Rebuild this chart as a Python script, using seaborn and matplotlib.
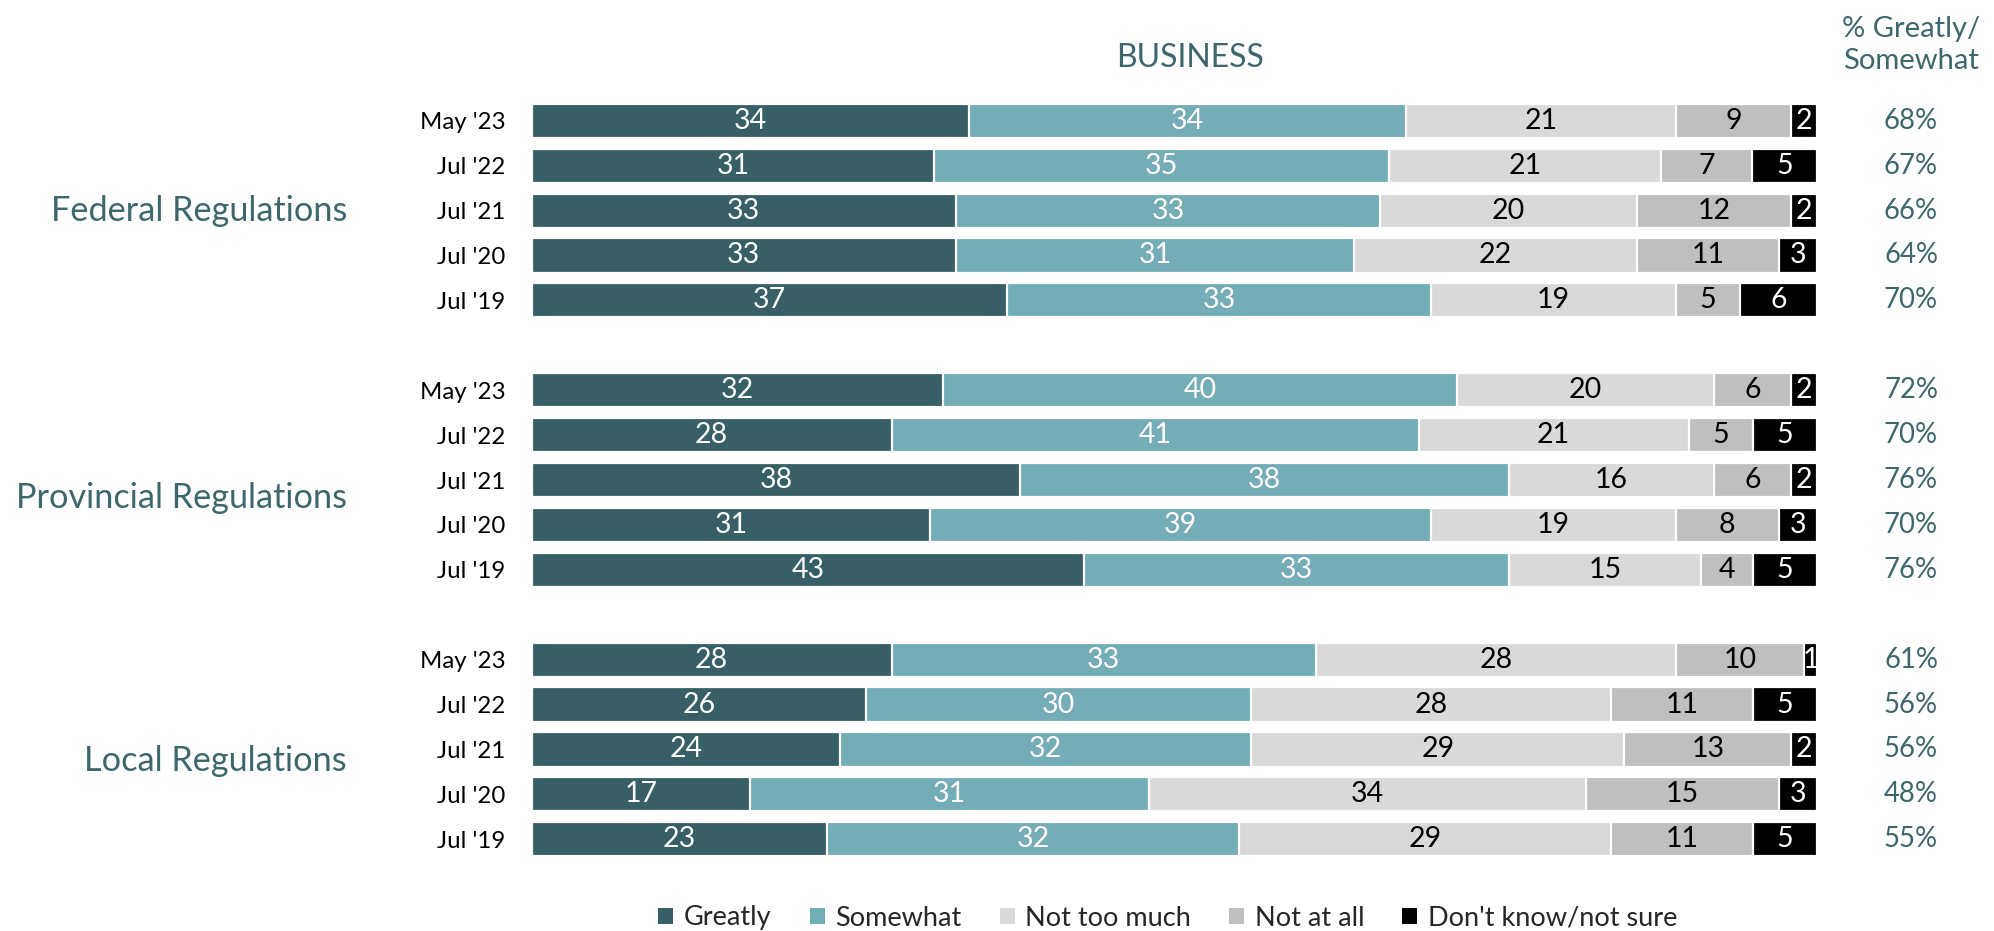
import numpy as np
import pandas as pd
import matplotlib
matplotlib.use("Agg")
import matplotlib.pyplot as plt
import matplotlib.transforms as mtrans
from matplotlib.patches import Patch
import seaborn as sns

# ---------------- data ----------------
groups = ["Federal Regulations", "Provincial Regulations", "Local Regulations"]
waves = ["May '23", "Jul '22", "Jul '21", "Jul '20", "Jul '19"]
series = ["Greatly", "Somewhat", "Not too much", "Not at all", "Don't know/not sure"]

greatly      = [34, 31, 33, 33, 37,   32, 28, 38, 31, 43,   28, 26, 24, 17, 23]
somewhat     = [34, 35, 33, 31, 33,   40, 41, 38, 39, 33,   33, 30, 32, 31, 32]
not_too_much = [21, 21, 20, 22, 19,   20, 21, 16, 19, 15,   28, 28, 29, 34, 29]
not_at_all   = [9, 7, 12, 11, 5,      6, 5, 6, 8, 4,        10, 11, 13, 15, 11]
dont_know    = [2, 5, 2, 3, 6,        2, 5, 2, 3, 5,        1, 5, 2, 3, 5]
pct_greatly_somewhat = ["68%", "67%", "66%", "64%", "70%",
                        "72%", "70%", "76%", "70%", "76%",
                        "61%", "56%", "56%", "48%", "55%"]

colors = ["#375F65", "#73ADB5", "#D9D9D9", "#BFBFBF", "#000000"]
text_colors = ["white", "white", "black", "black", "white"]
teal = "#3E676C"

# ---------------- build table ----------------
vals = np.array([greatly, somewhat, not_too_much, not_at_all, dont_know], dtype=float)
norm = vals / vals.sum(axis=0) * 100.0
cum = np.cumsum(norm, axis=0)

positions = []
for gi in range(len(groups)):
    for wi in range(len(waves)):
        positions.append(gi * (len(waves) + 1) + wi)
positions = np.array(positions, dtype=float)

df = pd.DataFrame({"pos": positions})
for k, s in enumerate(series):
    df[s] = norm[k]
    df["cum_" + s] = cum[k]

# ---------------- figure ----------------
sns.set_theme(style="white")
plt.rcParams["font.family"] = ["Lato", "DejaVu Sans"]

fig = plt.figure(figsize=(19.94, 9.31), dpi=100)
ax = fig.add_axes([0.2666, 0.0744, 0.9113 - 0.2666, 0.8944 - 0.0744])

for k in range(len(series) - 1, -1, -1):
    sns.barplot(data=df, x="cum_" + series[k], y="pos", orient="y",
                native_scale=True, color=colors[k], saturation=1,
                width=0.76, errorbar=None, edgecolor="white", linewidth=1.6,
                ax=ax)

# value labels
for k in range(len(series)):
    centers = cum[k] - norm[k] / 2.0
    for i in range(len(positions)):
        ax.text(centers[i], positions[i], f"{int(vals[k, i])}",
                ha="center", va="center", color=text_colors[k], fontsize=20.5)

ax.set_xlim(0, 100)
ax.set_ylim(positions.max() + 0.5, -0.5)
ax.set_yticks(positions)
ax.set_yticklabels(waves * len(groups), fontsize=17.3, color="black")
ax.tick_params(axis="y", length=0, pad=19)
ax.set_xticks([])
ax.set_xlabel("")
ax.set_ylabel("")
for sp in ax.spines.values():
    sp.set_visible(False)

# group labels
blend = mtrans.blended_transform_factory(fig.transFigure, ax.transData)
group_offsets = [2.0, 2.4, 2.25]
for gi, g in enumerate(groups):
    ax.text(347 / 1994, gi * (len(waves) + 1) + group_offsets[gi], g,
            transform=blend, ha="right", va="center", fontsize=24.7, color=teal)

# percent column
for i in range(len(positions)):
    ax.text(1911 / 1994, positions[i], pct_greatly_somewhat[i], transform=blend,
            ha="center", va="center", fontsize=19.8, color=teal)

fig.text(1911 / 1994, 1 - 45 / 931, "% Greatly/\nSomewhat", ha="center",
         va="center", fontsize=21, color=teal, linespacing=1.3)
fig.text(1190 / 1994, 1 - 58 / 931, "BUSINESS", ha="center", va="center",
         fontsize=23, color=teal)

handles = [Patch(facecolor=c, edgecolor="none") for c in colors]
fig.legend(handles, series, loc="center", ncol=5, frameon=False,
           bbox_to_anchor=(1168 / 1994, 1 - 918 / 931), fontsize=19.5,
           handlelength=0.55, handleheight=0.55, handletextpad=0.4,
           columnspacing=1.4)

fig.savefig("out.png", dpi=100)
